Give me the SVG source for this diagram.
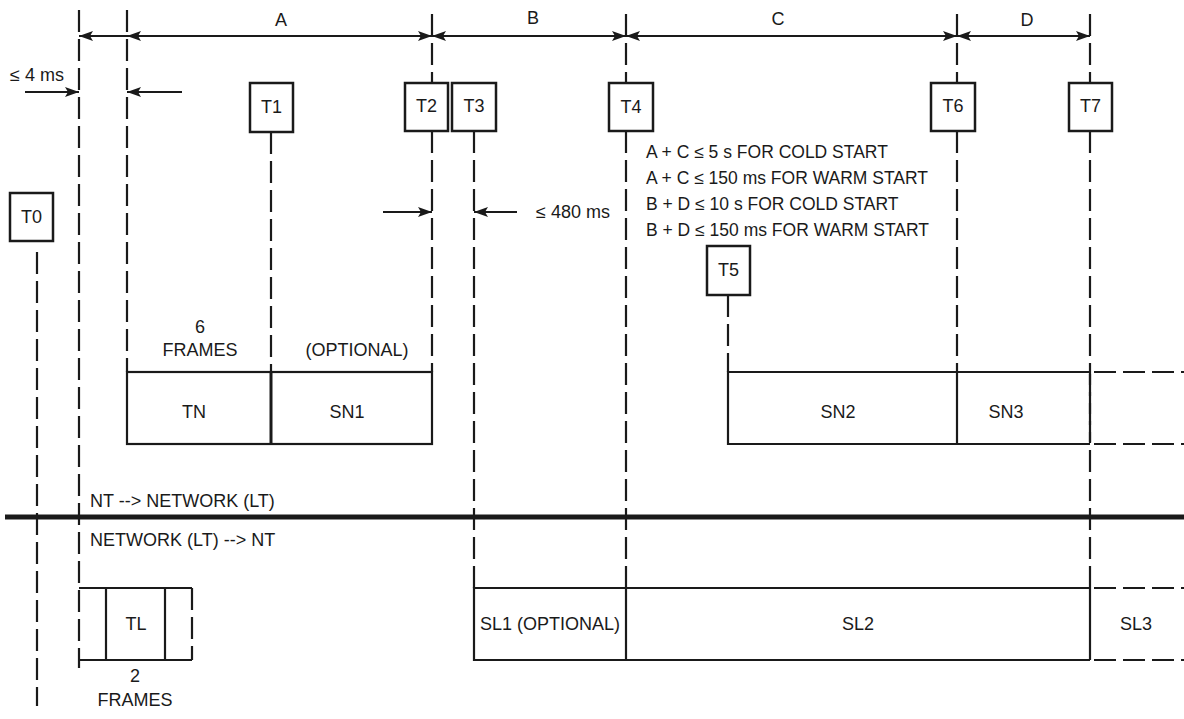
<svg xmlns="http://www.w3.org/2000/svg" width="1184" height="719" viewBox="0 0 1184 719">
<style>
text{font-family:"Liberation Sans",Arial,sans-serif;font-size:18px;fill:#1a1a1a}
.c{text-anchor:middle}
.s{font-size:17.5px}
.box{fill:#fff;stroke:#1a1a1a;stroke-width:2.5}
.ln{fill:none;stroke:#1a1a1a;stroke-width:2.2}
.d{fill:none;stroke:#1a1a1a;stroke-width:2.2;stroke-dasharray:22 7}
.ar{fill:none;stroke:#1a1a1a;stroke-width:2.2;marker-end:url(#ah)}
.ar2{fill:none;stroke:#1a1a1a;stroke-width:2.2;marker-end:url(#ah);marker-start:url(#ah)}
.ars{fill:none;stroke:#1a1a1a;stroke-width:2.2;marker-start:url(#ah)}
</style>
<defs>
<marker id="ah" viewBox="0 0 14 10" refX="14" refY="5" markerWidth="14" markerHeight="10" markerUnits="userSpaceOnUse" orient="auto-start-reverse">
<path d="M0,0 L14,5 L0,10 L3,5 z" fill="#1a1a1a"/>
</marker>
</defs>
<rect width="1184" height="719" fill="#fff"/>
<g id="connectors">
<!-- vertical dashed time lines -->
<line class="d" x1="37" y1="252" x2="37" y2="706"/>
<line class="d" x1="79" y1="10" x2="79" y2="668"/>
<line class="d" x1="127" y1="10" x2="127" y2="372"/>
<line class="d" x1="271" y1="132" x2="271" y2="372"/>
<line class="d" x1="432" y1="14" x2="432" y2="83"/>
<line class="d" x1="432" y1="131" x2="432" y2="372"/>
<line class="d" x1="474" y1="131" x2="474" y2="588"/>
<line class="d" x1="626" y1="14" x2="626" y2="83"/>
<line class="d" x1="626" y1="131" x2="626" y2="588"/>
<line class="d" x1="728" y1="295" x2="728" y2="372"/>
<line class="d" x1="957" y1="14" x2="957" y2="83"/>
<line class="d" x1="957" y1="131" x2="957" y2="372"/>
<line class="d" x1="1090" y1="14" x2="1090" y2="83"/>
<line class="d" x1="1090" y1="131" x2="1090" y2="588"/>
<!-- dimension arrows -->
<line class="ars" x1="79" y1="36" x2="127" y2="36"/>
<line class="ar2" x1="127" y1="36" x2="432" y2="36"/>
<line class="ar2" x1="432" y1="36" x2="626" y2="36"/>
<line class="ar2" x1="626" y1="36" x2="957" y2="36"/>
<line class="ar2" x1="957" y1="36" x2="1090" y2="36"/>
<line class="ar" x1="25" y1="92" x2="79" y2="92"/>
<line class="ar" x1="182" y1="92" x2="127" y2="92"/>
<line class="ar" x1="383" y1="212" x2="432" y2="212"/>
<line class="ar" x1="517" y1="212" x2="474" y2="212"/>
<!-- direction divider -->
<line x1="5" y1="517" x2="1184" y2="517" stroke="#1a1a1a" stroke-width="5"/>
<!-- continuation dashes -->
<line class="d" x1="1094" y1="372" x2="1184" y2="372"/>
<line class="d" x1="1094" y1="444" x2="1184" y2="444"/>
<line class="d" x1="1094" y1="588" x2="1184" y2="588"/>
<line class="d" x1="1094" y1="660" x2="1184" y2="660"/>
</g>
<g id="labels">
<text class="c" x="281" y="26">A</text>
<text class="c" x="533" y="24">B</text>
<text class="c" x="778" y="25">C</text>
<text class="c" x="1027" y="26">D</text>
<text x="10" y="81">≤ 4 ms</text>
<text x="536" y="218">≤ 480 ms</text>
<text class="s" x="646" y="158">A + C ≤ 5 s FOR COLD START</text>
<text class="s" x="646" y="184">A + C ≤ 150 ms FOR WARM START</text>
<text class="s" x="646" y="210">B + D ≤ 10 s FOR COLD START</text>
<text class="s" x="646" y="236">B + D ≤ 150 ms FOR WARM START</text>
<text x="90" y="507">NT --&gt; NETWORK (LT)</text>
<text x="90" y="546">NETWORK (LT) --&gt; NT</text>
</g>
<g id="T0"><rect class="box" x="10" y="193" width="43" height="48"/><text class="c" x="31.5" y="223">T0</text></g>
<g id="T1"><rect class="box" x="250" y="83" width="43" height="49"/><text class="c" x="271.5" y="113">T1</text></g>
<g id="T2"><rect class="box" x="405" y="83" width="43" height="48"/><text class="c" x="426.5" y="112">T2</text></g>
<g id="T3"><rect class="box" x="452" y="83" width="44" height="48"/><text class="c" x="474" y="112">T3</text></g>
<g id="T4"><rect class="box" x="609" y="83" width="44" height="48"/><text class="c" x="631" y="113">T4</text></g>
<g id="T5"><rect class="box" x="707" y="246" width="43" height="49"/><text class="c" x="728.5" y="276">T5</text></g>
<g id="T6"><rect class="box" x="931" y="83" width="44" height="48"/><text class="c" x="953" y="112">T6</text></g>
<g id="T7"><rect class="box" x="1069" y="83" width="43" height="48"/><text class="c" x="1090.5" y="112">T7</text></g>
<g id="TN-SN1">
<rect class="ln" x="127" y="372" width="305" height="72"/>
<line x1="271" y1="372" x2="271" y2="444" stroke="#1a1a1a" stroke-width="3"/>
<text class="c" x="200" y="333">6</text>
<text class="c" x="200" y="356">FRAMES</text>
<text class="c" x="357" y="356">(OPTIONAL)</text>
<text class="c" x="194" y="418">TN</text>
<text class="c" x="347" y="418">SN1</text>
</g>
<g id="SN2-SN3">
<polyline class="ln" points="1090,372 728,372 728,444 1090,444"/>
<line class="ln" x1="957" y1="372" x2="957" y2="444"/>
<line class="d" x1="1090" y1="374" x2="1090" y2="442"/>
<text class="c" x="838" y="418">SN2</text>
<text class="c" x="1006" y="418">SN3</text>
</g>
<g id="TL">
<polyline class="ln" points="192,588 79,588"/>
<polyline class="ln" points="79,660 192,660"/>
<line class="ln" x1="106" y1="588" x2="106" y2="660"/>
<line class="ln" x1="165" y1="588" x2="165" y2="660"/>
<line class="d" x1="192" y1="588" x2="192" y2="660" style="stroke-dasharray:22 7"/>
<text class="c" x="136" y="630">TL</text>
<text class="c" x="135" y="682">2</text>
<text class="c" x="135" y="706">FRAMES</text>
</g>
<g id="SL">
<polyline class="ln" points="1090,588 474,588 474,660 1090,660"/>
<line class="ln" x1="626" y1="588" x2="626" y2="660"/>
<line class="ln" x1="1090" y1="588" x2="1090" y2="660"/>
<text class="c" x="550" y="630">SL1 (OPTIONAL)</text>
<text class="c" x="858" y="630">SL2</text>
<text class="c" x="1136" y="630">SL3</text>
</g>
</svg>
